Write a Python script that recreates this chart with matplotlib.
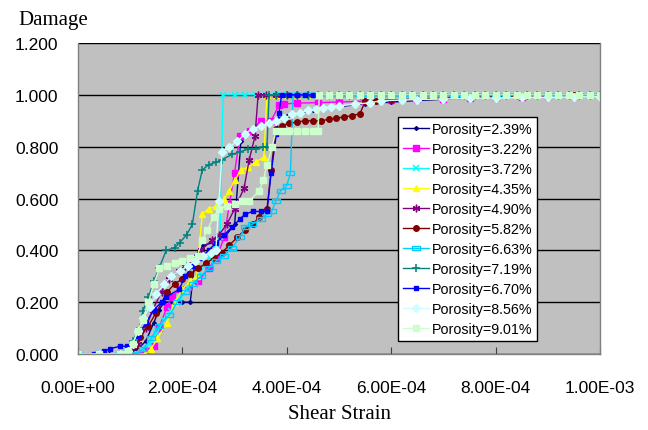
import matplotlib
matplotlib.use("Agg")
import matplotlib.pyplot as plt
import numpy as np
from matplotlib.ticker import FuncFormatter, MultipleLocator

# strain values are in units of 1e-4
tail_x = [4.8, 5.0, 5.2, 5.4, 5.6, 5.8, 6.0, 6.2, 6.4, 6.6, 6.8, 7.0, 7.2, 7.4,
          7.6, 7.8, 8.0, 8.2, 8.4, 8.6, 8.8, 9.0, 9.2, 9.4, 9.6, 9.8, 10.0]

labels = ["Porosity=2.39%", "Porosity=3.22%", "Porosity=3.72%", "Porosity=4.35%",
          "Porosity=4.90%", "Porosity=5.82%", "Porosity=6.63%", "Porosity=7.19%",
          "Porosity=6.70%", "Porosity=8.56%", "Porosity=9.01%"]

x_239 = [0, 0.3, 0.6, 0.9, 1.1, 1.3, 1.45, 1.55, 1.65, 1.8, 2.0, 2.15, 2.25, 2.4, 2.6, 2.8,
         3.0, 3.12, 3.25, 3.5, 4.0, 4.5, 5.0, 5.5, 6.0, 6.5, 7.0, 7.5, 8.0, 8.5, 9.0, 9.5, 10.0]
y_239 = [0, 0, 0, 0, 0.01, 0.05, 0.12, 0.17, 0.2, 0.2, 0.2, 0.2, 0.38, 0.42, 0.43, 0.45,
         0.5, 0.82, 0.86, 0.89, 0.92, 0.94, 0.955, 0.965, 0.972, 0.978, 0.983, 0.987, 0.99,
         0.993, 0.995, 0.997, 1.0]

x_322 = [0, 0.4, 0.8, 1.1, 1.3, 1.45, 1.55, 1.7, 1.8, 1.95, 2.1, 2.3, 2.5, 2.65, 2.8, 2.9,
         3.0, 3.1, 3.3, 3.5, 3.7, 3.85, 3.95, 4.2, 4.6, 5.0, 5.5, 6.0, 6.5, 7.0, 7.5, 8.0,
         8.5, 9.0, 9.5, 10.0]
y_322 = [0, 0, 0, 0, 0.01, 0.03, 0.1, 0.18, 0.22, 0.25, 0.26, 0.28, 0.33, 0.37, 0.45, 0.58,
         0.7, 0.84, 0.86, 0.9, 0.9, 0.96, 0.965, 0.968, 0.97, 0.972, 0.976, 0.98, 0.983,
         0.985, 0.988, 0.99, 0.993, 0.995, 0.997, 1.0]

x_372 = [0, 0.4, 0.8, 1.1, 1.25, 1.37, 1.5, 1.65, 1.79, 1.95, 2.1, 2.3, 2.5, 2.65, 2.72,
         2.78, 3.0, 3.2, 3.4, 3.6, 3.8, 4.0, 4.2, 4.4, 4.6]
y_372 = [0, 0, 0, 0, 0.02, 0.04, 0.08, 0.13, 0.165, 0.22, 0.26, 0.3, 0.37, 0.42, 0.45,
         1.0, 1.0, 1.0, 1.0, 1.0, 1.0, 1.0, 1.0, 1.0, 1.0]

x_435 = [0, 0.4, 0.8, 1.1, 1.28, 1.4, 1.52, 1.7, 1.85, 2.0, 2.15, 2.27, 2.38, 2.5, 2.65,
         2.8, 2.9, 3.0, 3.12, 3.25, 3.4, 3.56, 3.62, 3.8, 4.0, 4.2, 4.4, 4.6]
y_435 = [0, 0, 0, 0, 0, 0.02, 0.06, 0.12, 0.2, 0.25, 0.28, 0.3, 0.54, 0.56, 0.57, 0.6,
         0.63, 0.67, 0.71, 0.72, 0.74, 0.76, 1.0, 1.0, 1.0, 1.0, 1.0, 1.0]

x_490 = [0, 0.4, 0.8, 1.0, 1.15, 1.3, 1.43, 1.6, 1.75, 1.94, 2.05, 2.2, 2.35, 2.57, 2.7,
         2.85, 3.0, 3.18, 3.28, 3.39, 3.45, 3.6, 3.8, 4.0, 4.2, 4.4, 4.6]
y_490 = [0, 0, 0, 0.01, 0.04, 0.1, 0.17, 0.24, 0.29, 0.32, 0.34, 0.36, 0.4, 0.44, 0.46,
         0.5, 0.56, 0.64, 0.75, 0.84, 1.0, 1.0, 1.0, 1.0, 1.0, 1.0, 1.0]

x_582 = [0, 0.4, 0.8, 1.0, 1.1, 1.18, 1.35, 1.5, 1.71, 1.85, 2.0, 2.15, 2.3, 2.45, 2.6,
         2.75, 2.9, 3.05, 3.2, 3.35, 3.47, 3.62, 3.7, 3.79, 3.9, 4.05, 4.2, 4.35, 4.5, 4.65,
         4.8, 4.95, 5.1, 5.25, 5.4, 5.5, 5.7, 6.0, 6.5, 7.0, 7.5, 8.0, 8.5, 9.0, 9.5, 10.0]
y_582 = [0, 0, 0, 0.01, 0.03, 0.065, 0.11, 0.16, 0.24, 0.27, 0.29, 0.31, 0.33, 0.35,
         0.37, 0.39, 0.42, 0.45, 0.48, 0.5, 0.53, 0.56, 0.71, 0.87, 0.88, 0.89, 0.895, 0.9,
         0.9, 0.9, 0.905, 0.91, 0.915, 0.92, 0.927, 0.975, 0.978, 0.98, 0.984, 0.988, 0.99,
         0.993, 0.995, 0.997, 0.998, 1.0]

x_663 = [0, 0.4, 0.8, 1.1, 1.25, 1.4, 1.55, 1.75, 1.9, 2.05, 2.2, 2.35, 2.5, 2.65, 2.8,
         2.95, 3.1, 3.2, 3.33, 3.5, 3.62, 3.71, 3.79, 3.88, 4.0, 4.07, 4.12, 4.3, 4.45, 4.6]
y_663 = [0, 0, 0, 0, 0.02, 0.06, 0.11, 0.15, 0.2, 0.24, 0.27, 0.3, 0.33, 0.36, 0.38,
         0.41, 0.45, 0.49, 0.5, 0.52, 0.54, 0.55, 0.59, 0.63, 0.65, 0.7, 1.0, 1.0, 1.0, 1.0]

x_719 = [0, 0.4, 0.8, 0.95, 1.05, 1.18, 1.24, 1.35, 1.45, 1.55, 1.69, 1.85, 1.95, 2.08,
         2.19, 2.29, 2.38, 2.5, 2.65, 2.76, 2.95, 3.1, 3.25, 3.4, 3.55, 3.62, 3.66, 3.8,
         4.0, 4.2, 4.4, 4.6]
y_719 = [0, 0, 0, 0.01, 0.05, 0.1, 0.165, 0.22, 0.28, 0.33, 0.4, 0.41, 0.43, 0.46, 0.5,
         0.63, 0.71, 0.73, 0.74, 0.75, 0.77, 0.78, 0.79, 0.79, 0.8, 0.8, 1.0, 1.0, 1.0, 1.0,
         1.0, 1.0]

x_670 = [0, 0.3, 0.5, 0.61, 0.8, 0.93, 1.03, 1.15, 1.3, 1.45, 1.6, 1.69, 1.94, 2.05, 2.2,
         2.35, 2.5, 2.65, 2.8, 2.95, 3.1, 3.2, 3.35, 3.5, 3.62, 3.7, 3.8, 3.85, 3.9, 4.05,
         4.2, 4.35, 4.5, 4.6]
y_670 = [0, 0, 0.01, 0.02, 0.03, 0.03, 0.035, 0.07, 0.12, 0.17, 0.2, 0.22, 0.25, 0.3,
         0.34, 0.37, 0.4, 0.43, 0.46, 0.49, 0.52, 0.54, 0.55, 0.55, 0.55, 0.7, 0.85, 0.93,
         1.0, 1.0, 1.0, 1.0, 1.0, 1.0]

x_856 = [0, 0.4, 0.8, 0.95, 1.05, 1.15, 1.25, 1.37, 1.5, 1.65, 1.79, 1.95, 2.1, 2.25, 2.4,
         2.55, 2.64, 2.7, 2.76, 2.9, 3.05, 3.2, 3.35, 3.5, 3.65, 3.8, 3.95, 4.1, 4.25, 4.4,
         4.55, 4.7, 4.85, 5.0, 5.3, 5.6, 5.8, 6.2, 6.5, 7.0, 7.5, 8.0, 8.5, 9.0, 9.5, 10.0]
y_856 = [0, 0, 0, 0.01, 0.04, 0.09, 0.14, 0.18, 0.23, 0.27, 0.3, 0.32, 0.34, 0.36, 0.38,
         0.39, 0.4, 0.59, 0.78, 0.8, 0.82, 0.85, 0.87, 0.88, 0.89, 0.9, 0.91, 0.925, 0.93,
         0.94, 0.946, 0.95, 0.955, 0.958, 0.963, 0.97, 0.977, 0.98, 0.982, 0.984, 0.986,
         0.988, 0.99, 0.99, 0.992, 0.993]

x_901 = [0, 0.4, 0.8, 0.95, 1.05, 1.15, 1.24, 1.35, 1.45, 1.56, 1.7, 1.85, 2.0, 2.15, 2.29,
         2.38, 2.48, 2.6, 2.7, 2.85, 3.0, 3.15, 3.28, 3.47, 3.55, 3.62, 3.72, 3.79, 3.9,
         4.05, 4.2, 4.35, 4.5, 4.6, 4.62, 4.8]
y_901 = [0, 0, 0, 0.01, 0.04, 0.09, 0.13, 0.2, 0.27, 0.33, 0.34, 0.35, 0.36, 0.37, 0.38,
         0.44, 0.48, 0.53, 0.56, 0.57, 0.58, 0.59, 0.59, 0.63, 0.67, 0.73, 0.8, 0.86, 0.86,
         0.86, 0.86, 0.86, 0.86, 0.86, 1.0, 1.0]

# series that stay fully damaged keep 1.000 for every later strain step
saturated = {"x_372", "x_435", "x_490", "x_663", "x_719", "x_670", "x_901"}

series = [
    ("x_239", x_239, y_239, dict(color="#000080", marker="D", ms=2)),
    ("x_322", x_322, y_322, dict(color="#FF00FF", marker="s", ms=3.8)),
    ("x_372", x_372, y_372, dict(color="#00FFFF", marker="x", ms=4.5, mew=1.1)),
    ("x_435", x_435, y_435, dict(color="#FFFF00", marker="^", ms=4)),
    ("x_490", x_490, y_490, dict(color="#800080", marker=(6, 2, 0), ms=5.5, mew=1)),
    ("x_582", x_582, y_582, dict(color="#800000", marker="o", ms=4)),
    ("x_663", x_663, y_663, dict(color="#00CCFF", marker=[(-1, -0.5), (1, -0.5), (1, 0.5), (-1, 0.5), (-1, -0.5)],
                                 ms=5.5, mfc="none", mew=1)),
    ("x_719", x_719, y_719, dict(color="#008080", marker="+", ms=5.5, mew=1.1)),
    ("x_670", x_670, y_670, dict(color="#0000FF", marker="s", ms=2.2)),
    ("x_856", x_856, y_856, dict(color="#CCFFFF", marker="D", ms=4)),
    ("x_901", x_901, y_901, dict(color="#CCFFCC", marker="s", ms=4)),
]

fig = plt.figure(figsize=(6.48, 4.31), dpi=100)
ax = fig.add_axes([0.1204, 0.1763, 0.8056, 0.7216])
ax.set_facecolor("#C0C0C0")

for (name, xs, ys, style), label in zip(series, labels):
    xs = list(xs)
    ys = list(ys)
    if name in saturated:
        xs = xs + tail_x
        ys = ys + [1.0] * len(tail_x)
    ax.plot(np.array(xs) * 1e-4, ys, lw=1, label=label, mec=style.get("color"), **style)

ax.set_xlim(0, 1e-3)
ax.set_ylim(0, 1.2)
ax.xaxis.set_major_locator(MultipleLocator(2e-4))
ax.yaxis.set_major_locator(MultipleLocator(0.2))
ax.xaxis.set_major_formatter(FuncFormatter(lambda v, p: f"{v:.2E}"))
ax.yaxis.set_major_formatter(FuncFormatter(lambda v, p: f"{v:.3f}"))
ax.grid(axis="y", color="black", lw=1)
ax.set_axisbelow(True)

ax.spines["top"].set_visible(False)
for s in ["left", "bottom", "right"]:
    ax.spines[s].set_color("#808080")
    ax.spines[s].set_linewidth(1)

ax.tick_params(axis="x", direction="in", length=5, color="#404040", pad=19,
               labelsize=12.5, labelfontfamily="Liberation Sans")
ax.tick_params(axis="y", length=0, pad=14, labelsize=12.5, labelfontfamily="Liberation Sans")

leg = ax.legend(loc="upper left", bbox_to_anchor=(0.613, 0.762), borderaxespad=0,
                fancybox=False, framealpha=1, edgecolor="black", facecolor="white",
                prop={"family": "Liberation Sans", "size": 10.3}, handlelength=1.8,
                handletextpad=0.2, labelspacing=0.42, borderpad=0.35)
leg.get_frame().set_linewidth(1)

fig.text(18 / 648, 1 - 25 / 431, "Damage", ha="left", va="baseline",
         family="Liberation Serif", fontsize=15)
fig.text(340 / 648, 1 - 419 / 431, "Shear Strain", ha="center", va="baseline",
         family="Liberation Serif", fontsize=15)

fig.savefig("out.png", dpi=100)
